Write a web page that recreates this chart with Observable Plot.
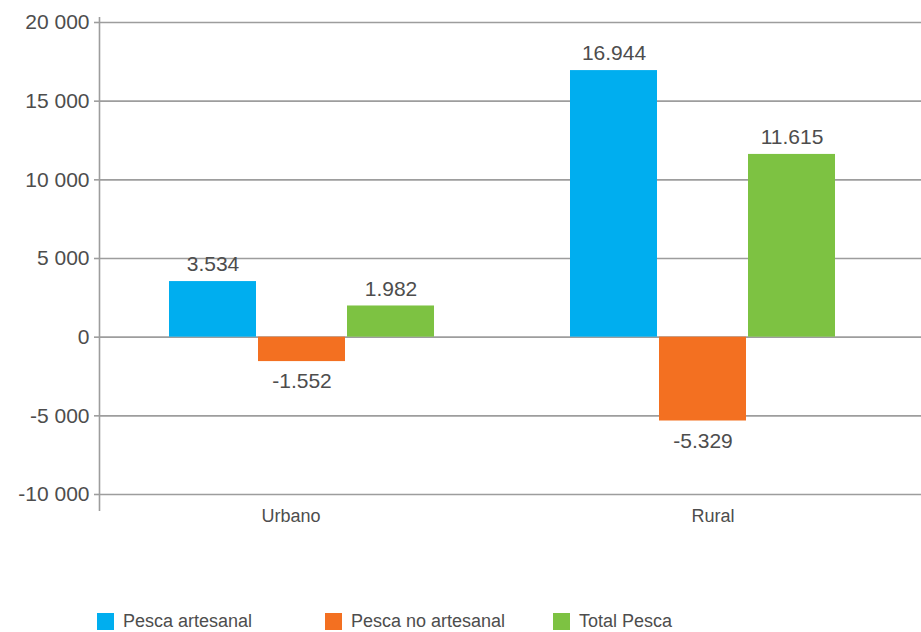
<!DOCTYPE html>
<html>
<head>
<meta charset="utf-8">
<script src="https://cdn.jsdelivr.net/npm/d3@7"></script>
<script src="https://cdn.jsdelivr.net/npm/@observablehq/plot@0.6"></script>
<style>
  html, body { margin: 0; padding: 0; background: #fff; }
  #chart { width: 921px; }
  .legend { display: flex; padding-left: 97px; margin-top: 67px; font-family: "Liberation Sans Narrow", "Liberation Sans", Arial, sans-serif; font-size: 18px; line-height: 18px; color: #4d4d4d; }
  .legend .item { width: 228px; display: flex; align-items: center; }
  .legend .sw { width: 17px; height: 17px; margin-right: 9px; flex: none; }
</style>
</head>
<body>
<div id="chart"></div>
<script>
const categories = ["Urbano", "Rural"];
const series = ["Pesca artesanal", "Pesca no artesanal", "Total Pesca"];
const urbanoValues = [3534, -1552, 1982];
const ruralValues = [16944, -5329, 11615];
const yTicks = [-10000, -5000, 0, 5000, 10000, 15000, 20000];
const colors = ["#00aeef", "#f37021", "#7dc242"];

const valuesByCategory = {Urbano: urbanoValues, Rural: ruralValues};
const data = categories.flatMap(c => series.map((s, i) => ({category: c, series: s, value: valuesByCategory[c][i]})));

const W = 921, H = 545, mL = 99, mT = 22, mB = 51, xStart = 101, xEnd = 903;
const band = (xEnd - xStart) / categories.length;
const inner = d3.scaleBand(series, [0, band]).paddingInner(2 / 89).paddingOuter(0.764);
const labelShift = [-11, 10];

const axisFmt = d3.formatLocale({decimal: ",", thousands: " ", grouping: [3], currency: ["", ""], minus: "-"}).format(",");
const valFmt = d3.formatLocale({decimal: ",", thousands: ".", grouping: [3], currency: ["", ""], minus: "-"}).format(",");

const txtColor = "#4d4d4d";
const gridColor = "#9d9d9d";

const marks = [
  Plot.ruleY(yTicks, {stroke: gridColor, strokeWidth: 1.6}),
  Plot.ruleX([categories[0]], {x: d => d, y1: yTicks[yTicks.length - 1], y2: yTicks[0], dx: -band / 2 - (xStart - mL), insetTop: -5, insetBottom: -17, stroke: gridColor, strokeWidth: 1.6}),
  Plot.axisY({ticks: yTicks, tickSize: 5, tickPadding: 5, tickFormat: axisFmt, stroke: gridColor, strokeWidth: 1.6, fill: txtColor, fontSize: 21, label: null}),
  ...categories.map((c, i) => Plot.axisX({ticks: [c], tickSize: 0, tickPadding: 15, dx: labelShift[i], fill: txtColor, fontSize: 18, label: null}))
];

series.forEach((s, i) => {
  const d = data.filter(r => r.series === s);
  const left = inner(s);
  const right = band - inner(s) - inner.bandwidth();
  const center = inner(s) + inner.bandwidth() / 2 - band / 2;
  marks.push(Plot.barY(d, {x: "category", y1: 0, y2: "value", fill: colors[i], insetLeft: left, insetRight: right}));
  marks.push(Plot.text(d.filter(r => r.value >= 0), {x: "category", y: "value", text: r => valFmt(r.value), dx: center, dy: -17, fill: txtColor, fontSize: 21}));
  marks.push(Plot.text(d.filter(r => r.value < 0), {x: "category", y: "value", text: r => valFmt(r.value), dx: center, dy: 20, fill: txtColor, fontSize: 21}));
});

const chart = Plot.plot({
  width: W,
  height: H,
  marginLeft: mL,
  marginRight: 0,
  marginTop: mT,
  marginBottom: mB,
  style: {fontFamily: "Liberation Sans, Arial, sans-serif", background: "#fff"},
  x: {domain: categories, range: [xStart, xEnd], padding: 0},
  y: {domain: [yTicks[0], yTicks[yTicks.length - 1]]},
  marks
});
document.getElementById("chart").appendChild(chart);

const legend = document.createElement("div");
legend.className = "legend";
series.forEach((s, i) => {
  const item = document.createElement("div");
  item.className = "item";
  const sw = document.createElement("span");
  sw.className = "sw";
  sw.style.background = colors[i];
  const t = document.createElement("span");
  t.textContent = s;
  item.appendChild(sw);
  item.appendChild(t);
  legend.appendChild(item);
});
document.getElementById("chart").appendChild(legend);
</script>
</body>
</html>
